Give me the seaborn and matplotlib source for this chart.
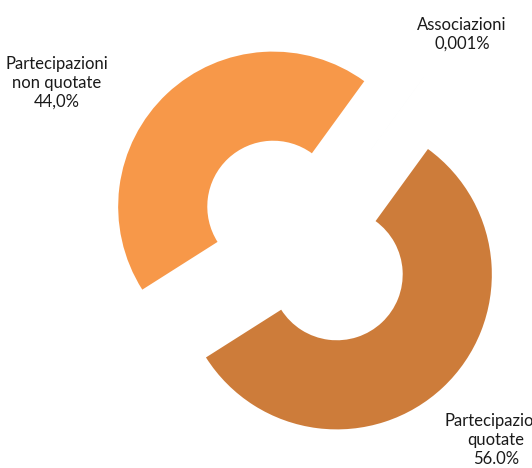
import matplotlib
matplotlib.use("Agg")
import matplotlib.pyplot as plt
import seaborn as sns

# data
categories = ["Associazioni", "Partecipazioni quotate", "Partecipazioni non quotate"]
shares = [0.001, 56.0, 44.0]
label_texts = ["Associazioni\n0,001%", "Partecipazioni\nquotate\n56.0%", "Partecipazioni\nnon quotate\n44,0%"]
colors = ["#4F81BD", "#CD7C3A", "#F79849"]

sns.set_theme(style="white")
plt.rcParams["font.family"] = ["Lato", "DejaVu Sans"]

W, H = 532, 468
fig = plt.figure(figsize=(W / 100, H / 100), dpi=100)
ax = fig.add_axes([0, 0, 1, 1])

# pie centre / radius in pixels
cx, cy, R = 305, 240.5, 155
ax.pie(shares, colors=colors, startangle=54, counterclock=False,
       explode=[0.30, 0.30, 0.30], radius=1.0,
       wedgeprops=dict(width=0.575, linewidth=0))
ax.set_xlim(-cx / R, (W - cx) / R)
ax.set_ylim(-(H - cy) / R, cy / R)
ax.set_aspect("equal")
ax.axis("off")

# labels (pixel positions from the top-left corner)
label_pos = [(462, 34), (496, 440), (57, 83)]
for txt, (px, py) in zip(label_texts, label_pos):
    fig.text(px / W, 1 - py / H, txt, ha="center", va="center",
             fontsize=12, color="#1a1a1a", linespacing=1.22)

fig.savefig("out.png", dpi=100)
